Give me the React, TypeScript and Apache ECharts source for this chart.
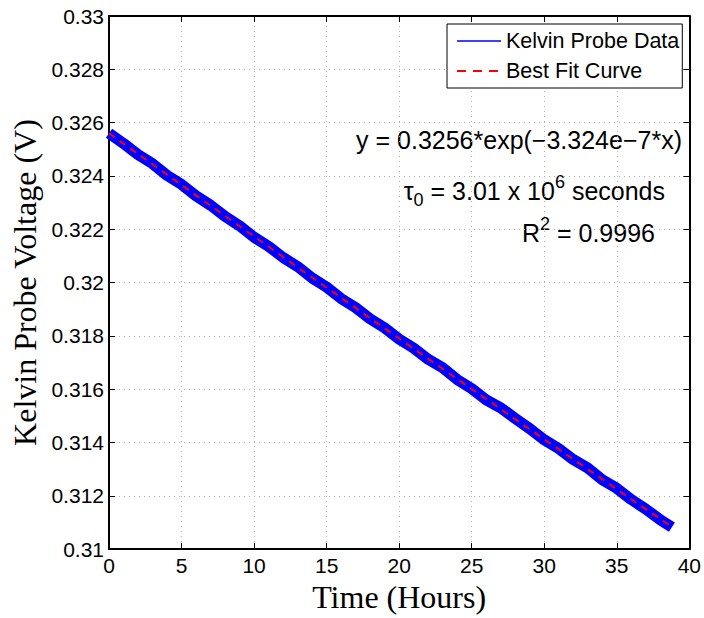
import React, { useEffect, useRef } from "react";
import * as echarts from "echarts";

// Measured Kelvin probe voltage (centre of the noisy band), read every hour
const dataHours = [0, 1, 2, 3, 4, 5, 6, 7, 8, 9, 10, 11, 12, 13, 14, 15, 16, 17, 18, 19, 20, 21, 22, 23, 24, 25, 26, 27, 28, 29, 30, 31, 32, 33, 34, 35, 36, 37, 38, 38.8];
const dataVolts = [0.32560, 0.32522, 0.32480, 0.32446, 0.32402, 0.32368, 0.32325, 0.32290, 0.32248, 0.32213, 0.32170, 0.32136, 0.32094, 0.32060, 0.32017, 0.31983, 0.31940, 0.31906, 0.31864, 0.31830, 0.31788, 0.31754, 0.31712, 0.31680, 0.31636, 0.31602, 0.31560, 0.31530, 0.31490, 0.31452, 0.31410, 0.31377, 0.31336, 0.31304, 0.31260, 0.31228, 0.31186, 0.31150, 0.31110, 0.31082];

// Best fit curve, read every two hours
const fitHours = [0, 2, 4, 6, 8, 10, 12, 14, 16, 18, 20, 22, 24, 26, 28, 30, 32, 34, 36, 38, 38.8];
const fitVolts = [0.32560, 0.32482, 0.32405, 0.32327, 0.32250, 0.32173, 0.32096, 0.32019, 0.31943, 0.31866, 0.31790, 0.31714, 0.31638, 0.31563, 0.31487, 0.31412, 0.31337, 0.31262, 0.31187, 0.31113, 0.31083];

const xTicks = { min: 0, max: 40, interval: 5 };
const yTicks = { min: 0.31, max: 0.33, interval: 0.002 };

const seriesNames = ["Kelvin Probe Data", "Best Fit Curve"];
const equationText = "y = 0.3256*exp(\u22123.324e\u22127*x)";
const tauText = "{t|\u03c4}{sub|0}{n| = 3.01 x 10}{sup|6}{n| seconds}";
const r2Text = "{n|R}{sup|2}{n| = 0.9996}";

const SANS = "Liberation Sans";
const SERIF = "Liberation Serif";

export default function App() {
  const ref = useRef<HTMLDivElement>(null);
  useEffect(() => {
    if (!ref.current) return;
    const chart = echarts.init(ref.current, null, { renderer: "svg" });
    const gridLine = { show: true, lineStyle: { color: "#b0b0b0", type: [1, 4], width: 1 } };
    const tick = { show: true, inside: true, length: 6, lineStyle: { color: "#000", width: 1 } };
    const axLine = { show: true, onZero: false, lineStyle: { color: "#000", width: 2 } };
    const yFmt = (v: number) => String(parseFloat(v.toFixed(3)));
    const ann = 25;
    const hiddenSymbol = { color: "rgba(0,0,0,0)", opacity: 0, borderWidth: 0 };
    chart.setOption({
      animation: false,
      backgroundColor: "#fff",
      grid: { left: 109, right: 14, top: 16, bottom: 64, containLabel: false },
      legend: {
        orient: "vertical",
        left: 447,
        top: 24,
        itemWidth: 44,
        itemHeight: 14,
        itemGap: 8,
        padding: [6, 3, 6, 9],
        borderColor: "#000",
        borderWidth: 1,
        backgroundColor: "#fff",
        textStyle: { fontSize: 21.5, fontFamily: SANS, color: "#000" },
        data: [
          { name: seriesNames[0], itemStyle: hiddenSymbol, lineStyle: { color: "#0000ff", width: 1.5 } },
          { name: seriesNames[1], itemStyle: hiddenSymbol, lineStyle: { color: "#ff0000", width: 2, type: [9, 7] } },
        ],
      },
      xAxis: [
        {
          type: "value",
          ...xTicks,
          position: "bottom",
          axisLine: axLine,
          axisTick: tick,
          splitLine: gridLine,
          axisLabel: { fontSize: 21, fontFamily: SANS, color: "#000", margin: 6 },
          name: "Time (Hours)",
          nameLocation: "middle",
          nameGap: 26,
          nameTextStyle: { fontSize: 32, fontFamily: SERIF, color: "#000" },
        },
        {
          type: "value",
          ...xTicks,
          position: "top",
          axisLine: axLine,
          axisTick: tick,
          splitLine: { show: false },
          axisLabel: { show: false },
        },
      ],
      yAxis: [
        {
          type: "value",
          ...yTicks,
          position: "left",
          axisLine: axLine,
          axisTick: tick,
          splitLine: gridLine,
          axisLabel: { fontSize: 21, fontFamily: SANS, color: "#000", margin: 5, formatter: yFmt },
          name: "Kelvin Probe Voltage (V)",
          nameLocation: "middle",
          nameGap: 66,
          nameTextStyle: { fontSize: 32, fontFamily: SERIF, color: "#000" },
        },
        {
          type: "value",
          ...yTicks,
          position: "right",
          axisLine: axLine,
          axisTick: tick,
          splitLine: { show: false },
          axisLabel: { show: false },
        },
      ],
      series: [
        {
          name: seriesNames[0],
          type: "line",
          showSymbol: false,
          symbol: "none",
          data: dataHours.map((h, i) => [h, dataVolts[i]]),
          lineStyle: { color: "#0000ff", width: 11 },
          itemStyle: { color: "#0000ff" },
          z: 2,
        },
        {
          name: seriesNames[1],
          type: "line",
          showSymbol: false,
          symbol: "none",
          data: fitHours.map((h, i) => [h, fitVolts[i]]),
          lineStyle: { color: "#ff0000", width: 2, type: [7, 6] },
          itemStyle: { color: "#ff0000" },
          z: 3,
        },
      ],
      graphic: [
        {
          type: "text",
          x: 682,
          y: 140,
          style: { text: equationText, align: "right", verticalAlign: "middle", fontSize: ann, fontFamily: SANS, fill: "#000" },
        },
        {
          type: "text",
          x: 665,
          y: 191,
          style: {
            text: tauText,
            align: "right",
            verticalAlign: "middle",
            fill: "#000",
            rich: {
              t: { fontSize: ann, fontFamily: SANS, lineHeight: 36, verticalAlign: "middle" },
              sub: { fontSize: 18, fontFamily: SANS, lineHeight: 36, verticalAlign: "bottom" },
              n: { fontSize: ann, fontFamily: SANS, lineHeight: 36, verticalAlign: "middle" },
              sup: { fontSize: 18, fontFamily: SANS, lineHeight: 36, verticalAlign: "top" },
            },
          },
        },
        {
          type: "text",
          x: 655,
          y: 233,
          style: {
            text: r2Text,
            align: "right",
            verticalAlign: "middle",
            fill: "#000",
            rich: {
              n: { fontSize: ann, fontFamily: SANS, lineHeight: 36, verticalAlign: "middle" },
              sup: { fontSize: 18, fontFamily: SANS, lineHeight: 36, verticalAlign: "top" },
            },
          },
        },
      ],
    });
    return () => chart.dispose();
  }, []);
  return <div ref={ref} style={{ position: "fixed", left: 0, top: 0, width: 704, height: 618 }} />;
}
